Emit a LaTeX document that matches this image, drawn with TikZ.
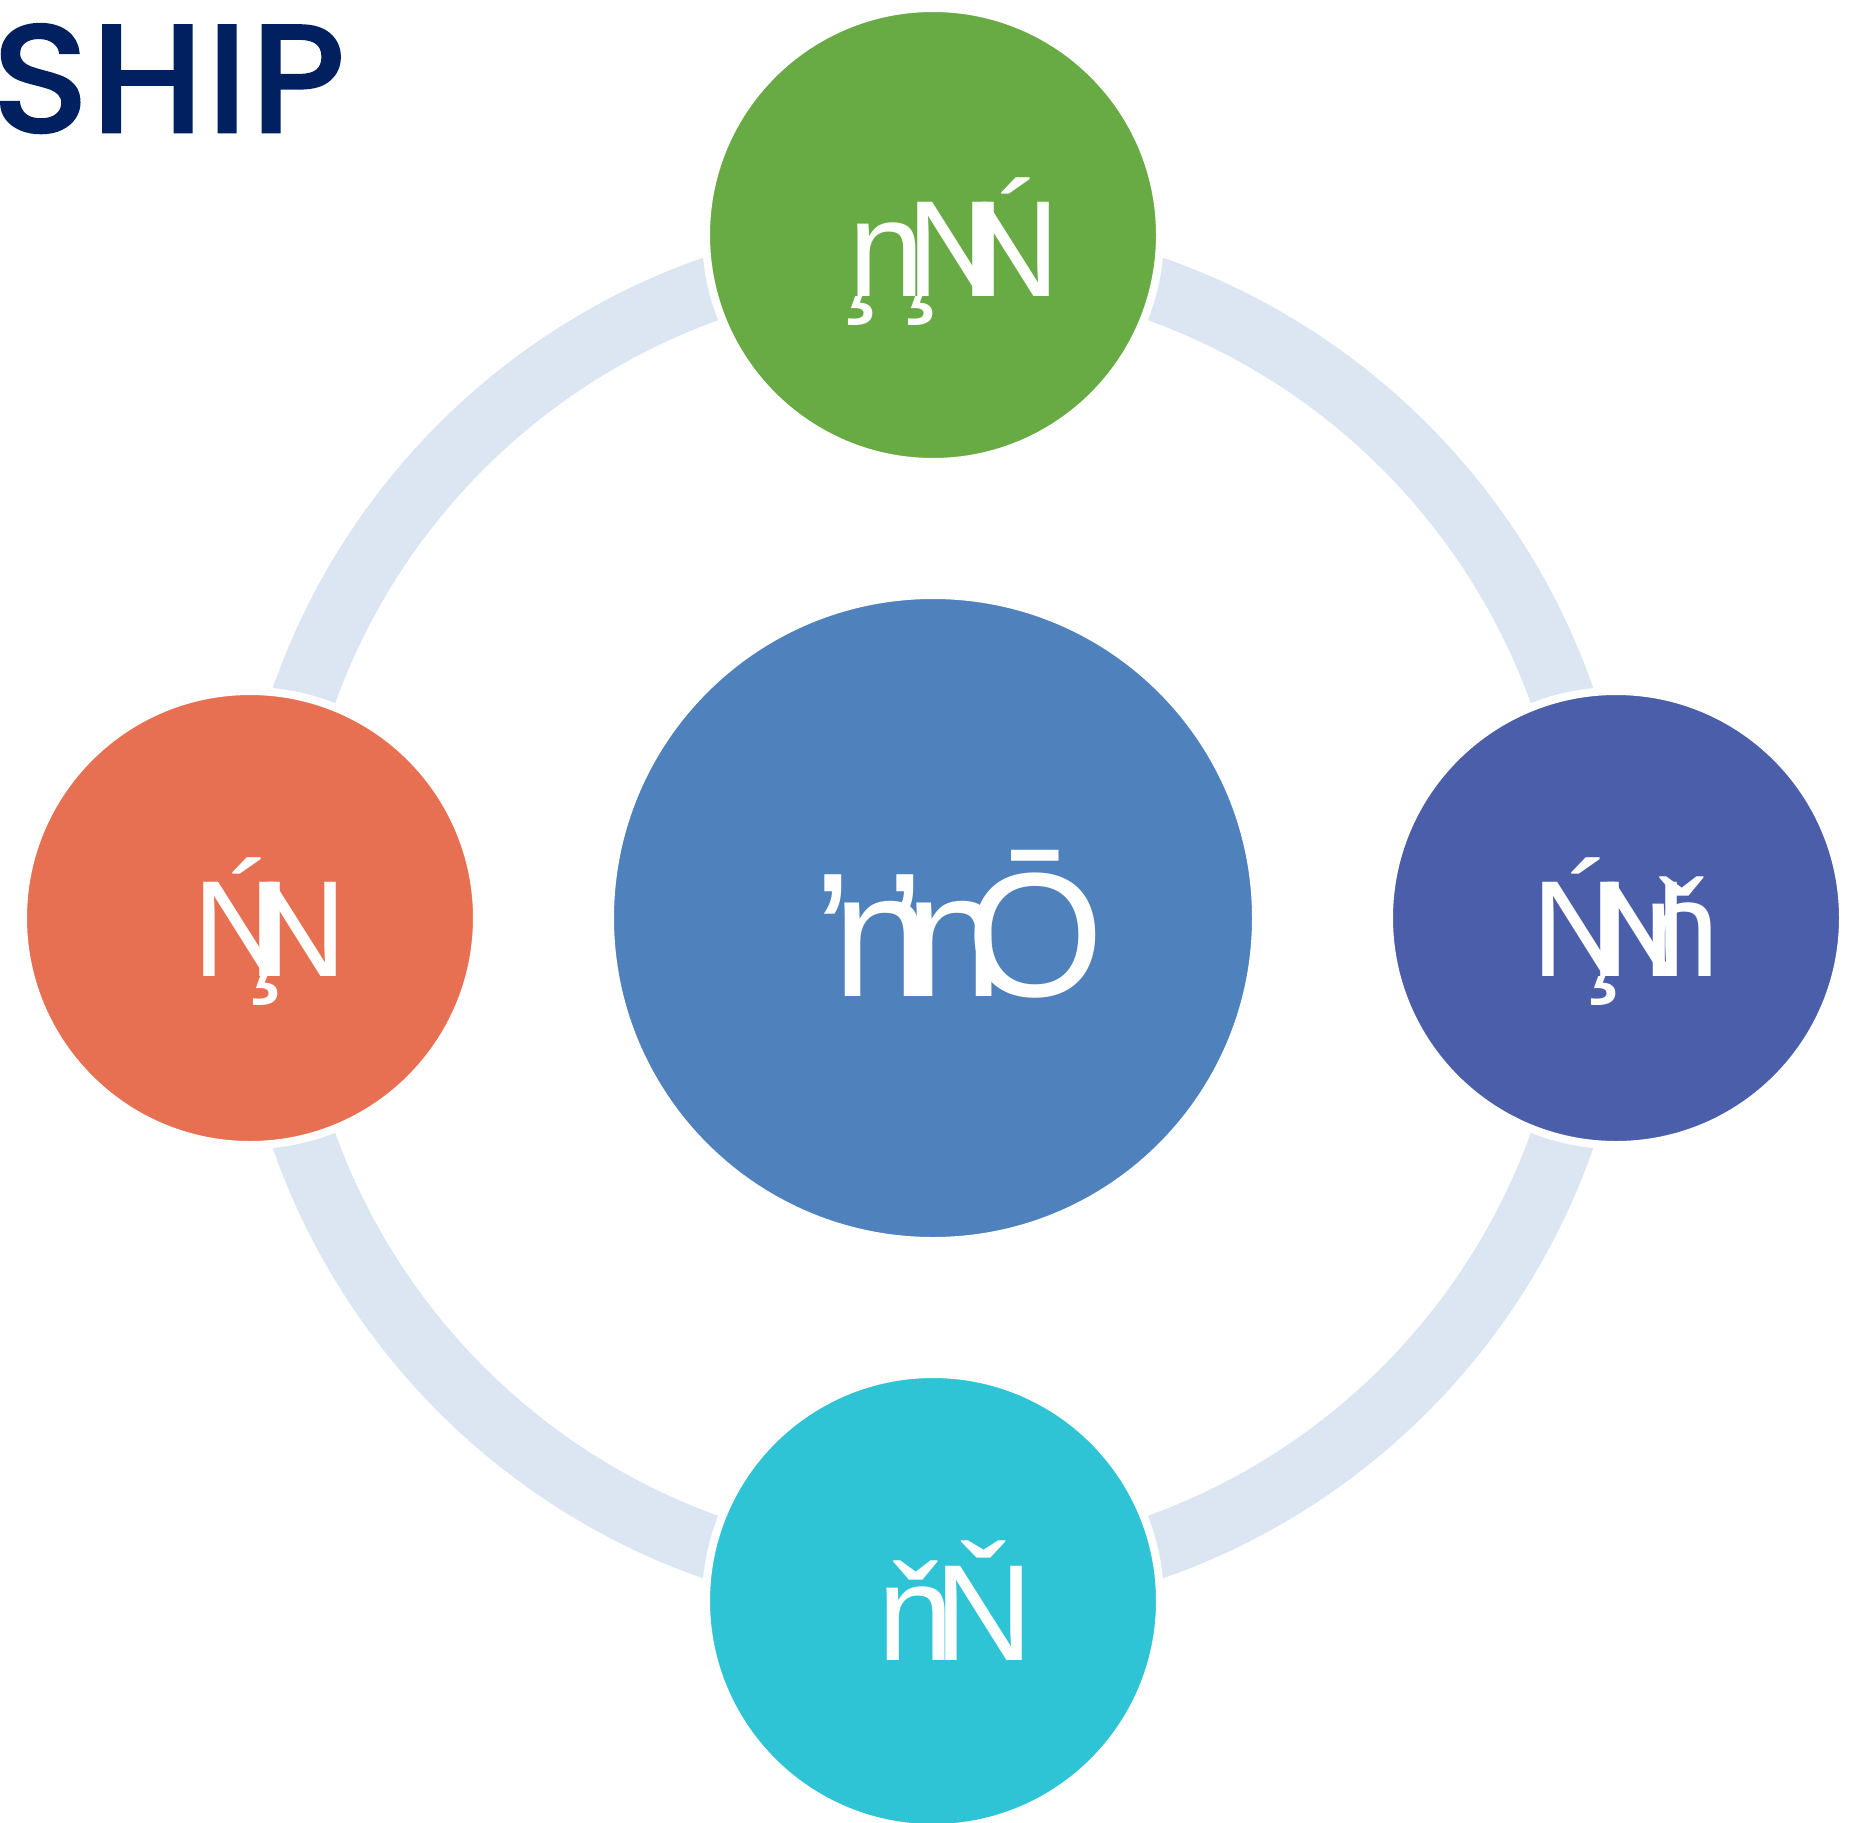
\documentclass[tikz,border=0pt]{standalone}
\usepackage{fontspec}
\setmainfont{Liberation Sans}
\newfontfamily\titlefont{Poppins}[FakeBold=3, FakeStretch=1.07, LetterSpace=3]
\usetikzlibrary{calc}
\definecolor{ringblue}{HTML}{DCE6F2}
\definecolor{hubblue}{HTML}{4F81BD}
\definecolor{topgreen}{HTML}{68AB45}
\definecolor{leftorange}{HTML}{E87052}
\definecolor{rightpurple}{HTML}{4B5EA9}
\definecolor{botcyan}{HTML}{2EC4D5}
\definecolor{titlenavy}{HTML}{002060}
\newcommand{\ced}[1]{\rlap{\kern#1pt ¸}}

\begin{document}
\begin{tikzpicture}[x=1pt,y=-1pt,
	sat/.style={circle, draw=white, line width=8pt, minimum size=454pt, inner sep=0pt},
	lbl/.style={text=white, inner sep=0pt, outer sep=0pt, anchor=base west, font=\fontsize{137}{137}\selectfont}]
	\useasboundingbox (0,0) rectangle (1864,1823);
	\coordinate (O) at (933,918);
	\draw[ringblue, line width=64pt] (O) circle[radius=667pt];
	\node[sat, fill=hubblue, minimum size=646pt] (hub) at (O) {};
	\node[sat, fill=topgreen] (topc) at ($(O)+(0,-683)$) {};
	\node[sat, fill=leftorange] (leftc) at ($(O)+(-683,0)$) {};
	\node[sat, fill=rightpurple] (rightc) at ($(O)+(683,0)$) {};
	\node[sat, fill=botcyan] (botc) at ($(O)+(0,683)$) {};
	\node[lbl, font=\fontsize{177}{177}\selectfont] (hubtext) at ($(hub.center)+(-109,78)$) {ŉ\kern-35pt ŉ\kern-36.5pt Ō};
	\node[lbl] (toptext) at ($(topc.center)+(-85,61)$) {\ced{-8}n\kern-17.6pt\ced{-6.6}N\kern-43.9pt Ń};
	\node[lbl] (lefttext) at ($(leftc.center)+(-57.4,58.7)$) {Ń\kern-42.9pt\ced{-3.6}N};
	\node[lbl] (righttext) at ($(rightc.center)+(-84.7,58.7)$) {Ń\kern-40.6pt\ced{-6.6}N\kern-44.7pt ň};
	\node[lbl] (bottext) at ($(botc.center)+(-56,59)$) {ň\kern-18.6pt Ň};
	\node[anchor=base west, inner sep=0pt, text=titlenavy, font={\titlefont\fontsize{150}{150}\selectfont}] (title) at (-7,131) {SHIP};
\end{tikzpicture}
\end{document}
